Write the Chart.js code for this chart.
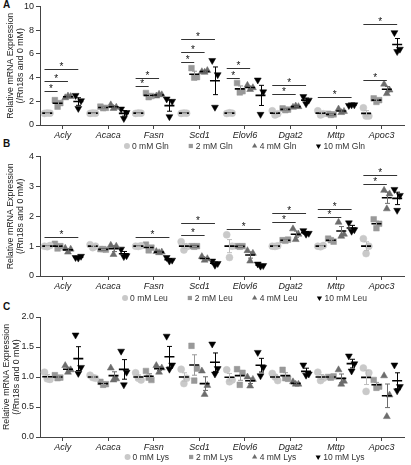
<!DOCTYPE html>
<html>
<head>
<meta charset="utf-8">
<script src="https://cdn.jsdelivr.net/npm/chart.js@4"></script>
<style>
  html, body { margin: 0; padding: 0; background: #fff; }
  body { width: 411px; height: 465px; position: relative; overflow: hidden; font-family: "Liberation Sans", Arial, sans-serif; }
  canvas { position: absolute; left: 0; }
  .tag { position: absolute; left: 3px; font: bold 10px "Liberation Sans", Arial, sans-serif; color: #111; line-height: 10px; }
</style>
</head>
<body>
<div class="tag" style="top:0px">A</div>
<div class="tag" style="top:139px">B</div>
<div class="tag" style="top:302px">C</div>
<canvas id="cA" width="411" height="152" style="top:0px"></canvas>
<canvas id="cB" width="411" height="155" style="top:150px"></canvas>
<canvas id="cC" width="411" height="165" style="top:300px"></canvas>
<script>
const genes = ["Acly", "Acaca", "Fasn", "Scd1", "Elovl6", "Dgat2", "Mttp", "Apoc3"];

// A: glutamine, three replicates per gene
const glnLabels = ["0 mM Gln", "2 mM Gln", "4 mM Gln", "10 mM Gln"];
const gln0 = [[0.98, 1.0, 1.02], [0.98, 1.0, 1.02], [0.98, 1.0, 1.02], [0.98, 1.0, 1.02], [0.97, 1.0, 1.03], [1.2, 0.95, 0.85], [1.2, 0.95, 0.85], [1.45, 0.75, 0.75]];
const gln2 = [[2.1, 1.85, 1.55], [1.55, 1.45, 1.42], [2.7, 2.45, 2.35], [4.8, 4.05, 4.0], [3.55, 2.85, 2.75], [1.4, 1.3, 1.25], [0.95, 0.9, 0.85], [2.25, 2.1, 1.95]];
const gln4 = [[2.3, 2.4, 2.45], [1.7, 1.5, 1.4], [2.45, 2.55, 2.6], [4.5, 4.6, 4.45], [3.35, 3.15, 3.0], [1.5, 1.55, 1.6], [1.35, 1.15, 1.05], [3.45, 2.95, 2.65]];
const gln10 = [[2.5, 2.05, 1.4], [1.35, 1.05, 0.55], [2.2, 2.0, 0.7], [5.45, 4.25, 1.5], [3.8, 2.8, 0.9], [2.4, 2.1, 1.8], [1.65, 1.7, 1.7], [7.8, 6.4, 6.2]];
// [gene, compared group, bracket height]
const glnSig = [[0, 1, 2.88], [0, 2, 3.75], [0, 3, 4.76], [2, 1, 3.28], [2, 2, 3.98], [3, 1, 5.3], [3, 2, 6.13], [3, 3, 7.23],
  [4, 1, 3.95], [4, 2, 4.82], [5, 2, 2.66], [5, 3, 3.42], [6, 3, 2.38], [7, 2, 3.84], [7, 3, 8.49]];
const glnTicks = [0, 2, 4, 6, 8, 10];

// B: leucine
const leuLabels = ["0 mM Leu", "2 mM Leu", "4 mM Leu", "10 mM Leu"];
const leu0 = [[1.0, 1.02, 0.98], [1.05, 1.0, 0.95], [1.0, 1.01, 0.99], [1.15, 0.98, 0.87], [1.38, 1.0, 0.62], [1.0, 1.01, 0.99], [1.0, 1.02, 0.98], [1.25, 1.0, 0.75]];
const leu2 = [[1.08, 1.0, 0.92], [0.9, 0.88, 0.9], [1.05, 0.95, 0.86], [1.0, 1.0, 0.98], [1.0, 1.0, 0.98], [1.2, 1.22, 1.18], [1.25, 1.15, 1.2], [1.9, 1.75, 1.6]];
const leu4 = [[0.93, 0.9, 0.8], [1.03, 1.0, 0.72], [0.82, 0.8, 0.78], [0.65, 0.58, 0.53], [0.85, 0.76, 0.5], [1.58, 1.4, 1.22], [1.8, 1.4, 1.33], [2.87, 2.75, 2.25]];
const leu10 = [[0.62, 0.66, 0.6], [0.9, 0.68, 0.65], [0.62, 0.53, 0.5], [0.5, 0.42, 0.36], [0.4, 0.35, 0.33], [1.52, 1.43, 1.4], [1.78, 1.55, 1.5], [2.9, 2.7, 2.2]];
const leuSig = [[0, 3, 1.29], [2, 3, 1.29], [3, 2, 1.37], [3, 3, 1.79], [4, 3, 1.59], [5, 2, 1.81], [5, 3, 2.11], [6, 2, 1.96], [6, 3, 2.26], [7, 2, 3.09], [7, 3, 3.4]];
const leuTicks = [0, 1, 2, 3, 4];

// C: lysine
const lysLabels = ["0 mM Lys", "2 mM Lys", "4 mM Lys", "10 mM Lys"];
const lys0 = [[1.08, 0.96, 0.97], [1.03, 0.98, 0.99], [1.07, 0.95, 0.98], [1.13, 0.98, 0.89], [1.12, 0.95, 0.92], [1.06, 0.94, 1.0], [1.08, 0.98, 0.94], [1.15, 1.07, 0.76]];
const lys2 = [[1.03, 0.99, 0.98], [0.92, 0.88, 0.87], [1.1, 0.95, 0.99], [1.52, 1.14, 0.94], [1.13, 1.07, 0.87], [1.12, 0.97, 0.98], [1.0, 1.01, 0.99], [0.95, 0.84, 0.82]];
const lys4 = [[1.19, 1.12, 1.08], [1.15, 0.97, 0.95], [1.19, 1.15, 1.08], [1.1, 0.86, 0.71], [1.0, 0.96, 0.85], [0.92, 0.88, 0.88], [1.12, 0.93, 0.88], [1.02, 0.7, 0.34]];
const lys10 = [[1.7, 1.16, 1.06], [1.43, 1.08, 0.87], [1.68, 1.2, 1.13], [1.55, 1.14, 1.05], [1.41, 1.16, 1.02], [1.2, 1.05, 1.03], [1.35, 1.22, 1.1], [1.2, 0.84, 0.77]];
const lysSig = [];
const lysTicks = [0, 0.5, 1.0, 1.5, 2.0];

const yTitle = ["Relative mRNA Expression", "(/Rn18s and 0 mM)"];

// look
const FONT = "'Liberation Sans', Arial, sans-serif";
const groupStyle = [
  { color: "#c9c9c9", shape: "circle", radius: 3.5, rotation: 0 },
  { color: "#999999", shape: "rect", radius: 4, rotation: 0 },
  { color: "#6c6c6c", shape: "triangle", radius: 4, rotation: 0 },
  { color: "#000000", shape: "triangle", radius: 4, rotation: 180 }
];
const groupOffset = [-0.341, -0.114, 0.114, 0.341];
const jitter = [-0.06, 0.06, 0];

const mean = a => a.reduce((s, v) => s + v, 0) / a.length;
const sem = a => {
  const m = mean(a);
  const sd = Math.sqrt(a.reduce((s, v) => s + (v - m) * (v - m), 0) / (a.length - 1));
  return sd / Math.sqrt(a.length);
};

function marker(ctx, st, x, y, r) {
  ctx.save();
  ctx.fillStyle = st.color;
  ctx.beginPath();
  if (st.shape === "circle") {
    ctx.arc(x, y, r, 0, Math.PI * 2);
  } else if (st.shape === "rect") {
    const s = r * Math.SQRT1_2;
    ctx.rect(x - s, y - s, 2 * s, 2 * s);
  } else {
    const d = st.rotation ? -1 : 1;
    ctx.moveTo(x, y - d * r);
    ctx.lineTo(x + r * 0.866, y + d * r * 0.5);
    ctx.lineTo(x - r * 0.866, y + d * r * 0.5);
    ctx.closePath();
  }
  ctx.fill();
  ctx.restore();
}

const panelDeco = {
  id: "panelDeco",
  afterDatasetsDraw(chart, args, opts) {
    const ctx = chart.ctx;
    const xs = chart.scales.x, ys = chart.scales.y;
    ctx.save();
    // mean +/- SEM
    opts.groups.forEach((grp, gi) => {
      ctx.strokeStyle = gi === 0 ? "#bdbdbd" : groupStyle[gi].color;
      ctx.lineWidth = 1;
      grp.forEach((reps, i) => {
        const m = mean(reps), s = sem(reps);
        const px = Math.round(xs.getPixelForValue(i + groupOffset[gi])) + 0.5;
        const y1 = ys.getPixelForValue(m + s), y2 = ys.getPixelForValue(m - s);
        ctx.beginPath();
        ctx.moveTo(px, y1); ctx.lineTo(px, y2);
        ctx.moveTo(px - 2.5, y1); ctx.lineTo(px + 2.5, y1);
        ctx.moveTo(px - 2.5, y2); ctx.lineTo(px + 2.5, y2);
        ctx.stroke();
      });
    });
    // significance brackets
    ctx.strokeStyle = "#333";
    ctx.fillStyle = "#111";
    ctx.font = "10px " + FONT;
    ctx.textAlign = "center";
    ctx.textBaseline = "alphabetic";
    opts.sig.forEach(([g, k, v]) => {
      const x1 = xs.getPixelForValue(g + groupOffset[0] - 0.06);
      const x2 = xs.getPixelForValue(g + groupOffset[k]);
      const yy = Math.round(ys.getPixelForValue(v)) + 0.5;
      ctx.beginPath();
      ctx.moveTo(x1, yy); ctx.lineTo(x2, yy);
      ctx.stroke();
      ctx.fillText("*", (x1 + x2) / 2, yy + 0.5);
    });
    ctx.restore();
  },
  afterDraw(chart, args, opts) {
    // legend row
    const ctx = chart.ctx;
    ctx.save();
    ctx.font = "8.5px " + FONT;
    ctx.fillStyle = "#333";
    ctx.textBaseline = "middle";
    ctx.textAlign = "left";
    const widths = opts.labels.map(t => ctx.measureText(t).width);
    const item = widths.map(w => 9 + w);
    const gap = 18;
    const total = item.reduce((s, v) => s + v, 0) + gap * (item.length - 1);
    let x = 245 - total / 2;
    opts.labels.forEach((t, i) => {
      marker(ctx, groupStyle[i], x + 3, opts.legendY, 3);
      ctx.fillText(t, x + 8, opts.legendY + 0.5);
      x += item[i] + gap;
    });
    ctx.restore();
  }
};

function makePanel(id, groups, labels, sig, ticks, yMax, opt) {
  const datasets = [];
  groups.forEach((grp, gi) => {
    const st = groupStyle[gi];
    const pts = [];
    grp.forEach((reps, i) => reps.forEach((v, r) => pts.push({ x: i + groupOffset[gi] + jitter[r], y: v })));
    datasets.push({
      label: labels[gi], data: pts, order: 2,
      pointStyle: st.shape, pointRotation: st.rotation, pointRadius: st.radius,
      backgroundColor: st.color, borderColor: st.color, borderWidth: 0.5
    });
  });
  groups.forEach((grp, gi) => {
    datasets.push({
      label: "mean " + labels[gi], order: 0,
      data: grp.map((reps, i) => ({ x: i + groupOffset[gi], y: mean(reps) })),
      pointStyle: "line", pointRadius: 5, borderColor: "#000", backgroundColor: "#000", borderWidth: 1.6
    });
  });

  new Chart(document.getElementById(id), {
    type: "scatter",
    data: { datasets },
    plugins: [panelDeco],
    options: {
      responsive: false,
      animation: false,
      events: [],
      layout: { padding: { left: 0, right: 5, top: opt.top, bottom: 0 } },
      plugins: {
        legend: { display: false },
        tooltip: { enabled: false },
        panelDeco: { groups, labels, sig, legendY: opt.legendY }
      },
      scales: {
        x: {
          type: "linear", min: -0.5, max: 7.5,
          afterBuildTicks: s => { s.ticks = genes.map((g, i) => ({ value: i })); },
          ticks: {
            callback: v => genes[v], autoSkip: false, maxRotation: 0, padding: 1,
            color: "#222", font: { family: FONT, size: 9, style: "italic" }
          },
          grid: { drawOnChartArea: false, tickLength: 4, color: "#444" },
          border: { color: "#444", width: 1 },
          afterFit: s => { s.height = opt.xh; s.paddingLeft = 0; s.paddingRight = 0; }
        },
        y: {
          min: 0, max: yMax,
          afterBuildTicks: s => { s.ticks = ticks.map(v => ({ value: v })); },
          ticks: {
            callback: v => opt.dec ? v.toFixed(1) : String(v), padding: 2,
            color: "#222", font: { family: FONT, size: 9 }
          },
          grid: { drawOnChartArea: false, tickLength: 4, color: "#444" },
          border: { color: "#444", width: 1 },
          title: { display: true, text: yTitle, color: "#222", font: { family: FONT, size: 8.8 }, padding: { top: opt.tpad, bottom: 0 } },
          afterFit: s => { s.width = 40; s.paddingTop = 0; s.paddingBottom = 0; }
        }
      }
    }
  });
}

makePanel("cA", [gln0, gln2, gln4, gln10], glnLabels, glnSig, glnTicks, 10, { top: 5, xh: 27, legendY: 146, dec: false, tpad: 5 });
makePanel("cB", [leu0, leu2, leu4, leu10], leuLabels, leuSig, leuTicks, 4, { top: 6, xh: 29, legendY: 148, dec: false, tpad: 5 });
makePanel("cC", [lys0, lys2, lys4, lys10], lysLabels, lysSig, lysTicks, 2, { top: 17, xh: 28, legendY: 157, dec: true, tpad: 1 });
</script>
</body>
</html>
